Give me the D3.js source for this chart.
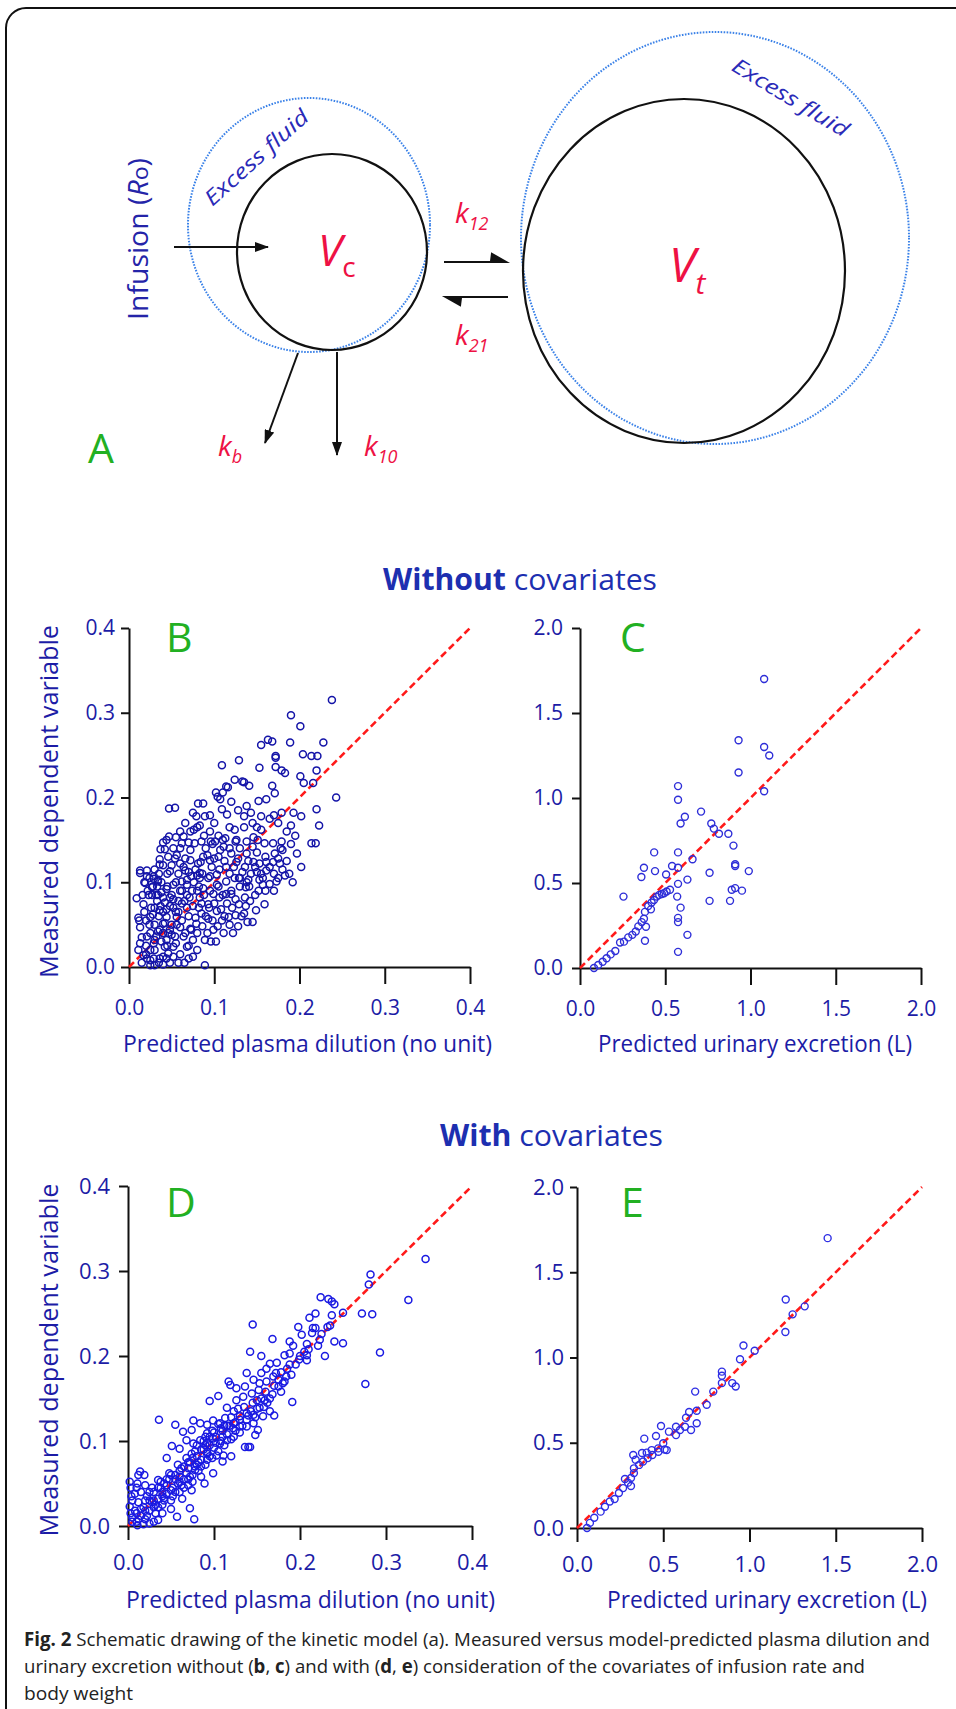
<!DOCTYPE html>
<html>
<head>
<meta charset="utf-8">
<script src="https://cdn.jsdelivr.net/npm/d3@7"></script>
<style>
body { margin: 0; background: #fff; }
text { font-family: "Open Sans", "Noto Sans", sans-serif; }
</style>
</head>
<body>
<svg id="fig" width="956" height="1709"></svg>
<script>
// tick values
const plasmaTicks = [0, 0.1, 0.2, 0.3, 0.4]
const urineTicks = [0, 0.5, 1.0, 1.5, 2.0]

// B: measured vs predicted plasma dilution, no covariates  [predicted, measured]
const plasmaNoCov = [
  [0.238,0.315],[0.19,0.297],[0.201,0.284],[0.163,0.268],[0.168,0.266],[0.155,0.262],[0.189,0.265],[0.228,0.265],
  [0.204,0.251],[0.214,0.249],[0.221,0.249],[0.172,0.249],[0.172,0.247],[0.129,0.244],[0.109,0.238],[0.153,0.235],
  [0.172,0.236],[0.179,0.232],[0.220,0.232],[0.183,0.229],[0.201,0.225],[0.216,0.217],[0.205,0.217],[0.124,0.221],
  [0.133,0.219],[0.135,0.218],[0.141,0.214],[0.114,0.213],[0.116,0.212],[0.102,0.206],[0.110,0.206],[0.104,0.201],
  [0.107,0.198],[0.109,0.186],[0.081,0.193],[0.087,0.193],[0.047,0.187],[0.054,0.188],[0.075,0.182],[0.079,0.178],
  [0.089,0.178],[0.095,0.179],[0.083,0.167],[0.076,0.162],[0.064,0.154],[0.055,0.153],[0.047,0.154],[0.044,0.150],
  [0.040,0.147],[0.042,0.139],[0.037,0.139],[0.036,0.127],[0.036,0.121],[0.013,0.111],[0.021,0.107],[0.029,0.104],
  [0.034,0.103],[0.048,0.113],[0.062,0.146],[0.070,0.147],[0.077,0.146],[0.085,0.148],[0.096,0.148],[0.101,0.148],
  [0.107,0.138],[0.111,0.142],[0.113,0.152],[0.118,0.165],[0.124,0.162],[0.135,0.165],[0.126,0.150],[0.138,0.148],
  [0.146,0.153],[0.151,0.150],[0.155,0.162],[0.159,0.146],[0.169,0.146],[0.179,0.148],[0.171,0.134],[0.180,0.138],
  [0.193,0.182],[0.202,0.178],[0.190,0.167],[0.220,0.186],[0.223,0.167],[0.243,0.200],[0.197,0.134],[0.202,0.118],
  [0.214,0.146],[0.219,0.146],[0.179,0.182],[0.170,0.179],[0.168,0.214],[0.161,0.198],[0.171,0.205],[0.152,0.196],
  [0.143,0.182],[0.138,0.190],[0.150,0.165],[0.138,0.134],[0.146,0.124],[0.153,0.122],[0.161,0.124],[0.169,0.124],
  [0.177,0.122],[0.183,0.108],[0.161,0.114],[0.150,0.112],[0.136,0.118],[0.126,0.124],[0.120,0.134],[0.114,0.118],
  [0.105,0.130],[0.095,0.126],[0.087,0.130],[0.081,0.122],[0.072,0.126],[0.066,0.114],[0.060,0.122],[0.054,0.128],
  [0.068,0.103],[0.083,0.111],[0.093,0.105],[0.103,0.109],[0.130,0.105],[0.140,0.103],[0.157,0.097],[0.173,0.101],
  [0.009,0.081],[0.013,0.114],[0.021,0.114],[0.019,0.099],[0.029,0.107],[0.011,0.058],[0.013,0.047],[0.017,0.074],
  [0.023,0.085],[0.027,0.094],[0.034,0.101],[0.032,0.085],[0.030,0.070],[0.025,0.059],[0.021,0.036],[0.013,0.028],
  [0.011,0.020],[0.017,0.014],[0.025,0.020],[0.029,0.028],[0.032,0.036],[0.036,0.044],[0.040,0.051],[0.042,0.024],
  [0.046,0.016],[0.052,0.012],[0.044,0.010],[0.036,0.010],[0.029,0.010],[0.021,0.010],[0.052,0.024],[0.054,0.036],
  [0.048,0.044],[0.044,0.059],[0.036,0.067],[0.042,0.076],[0.048,0.082],[0.052,0.070],[0.056,0.059],[0.060,0.047],
  [0.064,0.036],[0.068,0.024],[0.075,0.032],[0.073,0.044],[0.079,0.051],[0.085,0.063],[0.089,0.032],[0.089,0.002],
  [0.068,0.070],[0.071,0.082],[0.060,0.090],[0.062,0.101],[0.052,0.097],[0.044,0.092],[0.040,0.082],[0.068,0.097],
  [0.073,0.107],[0.083,0.082],[0.087,0.093],[0.093,0.074],[0.099,0.086],[0.103,0.066],[0.109,0.055],[0.111,0.040],
  [0.099,0.044],[0.093,0.057],[0.103,0.097],[0.114,0.101],[0.120,0.086],[0.121,0.070],[0.117,0.059],[0.125,0.061],
  [0.129,0.074],[0.135,0.063],[0.137,0.072],[0.139,0.053],[0.145,0.053],[0.137,0.094],[0.129,0.105],[0.141,0.095],
  [0.153,0.103],[0.157,0.105],[0.159,0.074],[0.149,0.067],[0.114,0.086],[0.106,0.082],[0.083,0.105],[0.095,0.107],
  [0.124,0.105],[0.015,0.005],[0.020,0.015],[0.025,0.008],[0.030,0.020],[0.035,0.005],[0.038,0.030],[0.040,0.012],
  [0.045,0.025],[0.025,0.040],[0.030,0.050],[0.035,0.060],[0.040,0.065],[0.028,0.062],[0.033,0.078],[0.038,0.088],
  [0.022,0.090],[0.026,0.070],[0.018,0.065],[0.020,0.055],[0.024,0.050],[0.030,0.032],[0.034,0.042],[0.042,0.052],
  [0.046,0.040],[0.050,0.050],[0.055,0.065],[0.058,0.078],[0.050,0.085],[0.045,0.095],[0.055,0.100],[0.062,0.090],
  [0.065,0.078],[0.070,0.060],[0.075,0.072],[0.080,0.090],[0.085,0.075],[0.090,0.060],[0.095,0.090],[0.100,0.075],
  [0.105,0.095],[0.110,0.085],[0.115,0.075],[0.120,0.090],[0.125,0.080],[0.130,0.095],[0.060,0.015],[0.065,0.005],
  [0.070,0.025],[0.080,0.040],[0.048,0.005],[0.055,0.028],[0.033,0.095],[0.027,0.085],[0.037,0.072],[0.030,0.002],
  [0.045,0.110],[0.050,0.120],[0.056,0.132],[0.060,0.140],[0.066,0.128],[0.072,0.138],[0.078,0.115],[0.084,0.124],
  [0.090,0.140],[0.097,0.118],[0.100,0.128],[0.106,0.115],[0.112,0.125],[0.118,0.110],[0.123,0.118],[0.128,0.128],
  [0.133,0.112],[0.138,0.100],[0.143,0.110],[0.148,0.118],[0.155,0.110],[0.160,0.130],[0.165,0.118],[0.170,0.110],
  [0.175,0.128],[0.178,0.140],[0.185,0.125],[0.190,0.145],[0.195,0.155],[0.185,0.160],[0.175,0.170],[0.165,0.175],
  [0.155,0.178],[0.145,0.170],[0.135,0.178],[0.128,0.185],[0.120,0.195],[0.115,0.180],[0.100,0.170],[0.095,0.160],
  [0.088,0.155],[0.080,0.165],[0.072,0.160],[0.066,0.170],[0.060,0.160],[0.052,0.140],[0.046,0.130],[0.040,0.120],
  [0.035,0.110],[0.030,0.115],[0.058,0.110],[0.064,0.118],[0.070,0.112],[0.076,0.100],[0.082,0.095],[0.088,0.085],
  [0.094,0.070],[0.098,0.055],[0.104,0.048],[0.108,0.068],[0.112,0.060],[0.118,0.050],[0.122,0.040],[0.128,0.048],
  [0.132,0.060],[0.136,0.082],[0.142,0.078],[0.148,0.085],[0.152,0.090],[0.160,0.090],[0.165,0.098],[0.170,0.090],
  [0.175,0.105],[0.180,0.115],[0.188,0.110],[0.192,0.100],[0.150,0.135],[0.145,0.142],[0.140,0.125],[0.130,0.140],
  [0.125,0.148],[0.118,0.140],[0.110,0.150],[0.105,0.155],[0.098,0.145],[0.092,0.132],[0.086,0.110],[0.080,0.108],
  [0.074,0.090],[0.068,0.085],[0.062,0.075],[0.058,0.065],[0.052,0.080],[0.048,0.072],[0.044,0.068],[0.040,0.040],
  [0.044,0.032],[0.050,0.038],[0.056,0.050],[0.062,0.055],[0.066,0.040],[0.072,0.045],[0.078,0.058],[0.082,0.070],
  [0.086,0.048],[0.092,0.040],[0.096,0.030],[0.102,0.030],[0.080,0.020],[0.075,0.012],[0.070,0.010],[0.058,0.005],
  [0.040,0.003],[0.025,0.002],[0.020,0.025],[0.015,0.035],[0.012,0.055],[0.016,0.085],[0.018,0.100],[0.024,0.105],
  [0.028,0.095],[0.034,0.085],[0.038,0.100]
]

// C: measured vs predicted urinary excretion (L), no covariates
const urineNoCov = [
  [1.08,1.70],[0.93,1.34],[1.08,1.30],[1.11,1.25],[0.93,1.15],[1.08,1.04],[0.575,1.07],[0.575,0.99],
  [0.615,0.89],[0.59,0.85],[0.71,0.92],[0.77,0.85],[0.785,0.82],[0.815,0.79],[0.87,0.79],[0.90,0.72],
  [0.575,0.68],[0.435,0.68],[0.66,0.64],[0.375,0.59],[0.44,0.57],[0.54,0.60],[0.575,0.59],[0.36,0.535],
  [0.505,0.55],[0.76,0.56],[0.91,0.61],[0.91,0.60],[0.99,0.57],[0.63,0.52],[0.255,0.42],[0.575,0.495],
  [0.57,0.42],[0.59,0.355],[0.575,0.295],[0.575,0.27],[0.63,0.195],[0.575,0.095],[0.76,0.395],[0.88,0.395],
  [0.89,0.46],[0.91,0.47],[0.95,0.455],[0.082,0.0],[0.107,0.018],[0.133,0.037],[0.156,0.057],[0.18,0.08],
  [0.207,0.10],[0.235,0.15],[0.258,0.155],[0.283,0.18],[0.307,0.195],[0.327,0.215],[0.342,0.245],[0.362,0.27],
  [0.375,0.29],[0.381,0.33],[0.40,0.365],[0.42,0.385],[0.434,0.40],[0.45,0.42],[0.465,0.43],[0.48,0.435],
  [0.493,0.44],[0.508,0.45],[0.528,0.46],[0.416,0.345],[0.387,0.243],[0.381,0.16]
]

// D: measured vs predicted plasma dilution, with covariates
const plasmaCov = [
  [0.346,0.314],[0.282,0.296],[0.280,0.284],[0.326,0.266],[0.224,0.269],[0.233,0.267],[0.237,0.264],[0.240,0.261],
  [0.250,0.251],[0.272,0.250],[0.284,0.249],[0.218,0.250],[0.237,0.248],[0.211,0.245],[0.235,0.236],[0.232,0.234],
  [0.215,0.233],[0.218,0.233],[0.198,0.234],[0.214,0.227],[0.202,0.225],[0.225,0.226],[0.223,0.219],[0.240,0.217],
  [0.250,0.215],[0.188,0.217],[0.192,0.212],[0.208,0.214],[0.221,0.212],[0.188,0.203],[0.182,0.201],[0.208,0.201],
  [0.229,0.200],[0.199,0.196],[0.208,0.195],[0.293,0.204],[0.276,0.167],[0.145,0.237],[0.168,0.220],[0.142,0.205],
  [0.155,0.200],[0.138,0.180],[0.155,0.180],[0.165,0.191],[0.173,0.192],[0.161,0.185],[0.178,0.181],[0.184,0.176],
  [0.169,0.176],[0.175,0.164],[0.161,0.170],[0.153,0.168],[0.146,0.172],[0.191,0.146],[0.117,0.170],[0.119,0.166],
  [0.126,0.162],[0.136,0.164],[0.144,0.156],[0.134,0.152],[0.126,0.148],[0.150,0.148],[0.159,0.148],[0.153,0.139],
  [0.165,0.135],[0.170,0.130],[0.157,0.129],[0.146,0.131],[0.138,0.133],[0.130,0.129],[0.123,0.135],[0.115,0.139],
  [0.105,0.153],[0.095,0.147],[0.113,0.127],[0.107,0.121],[0.099,0.124],[0.092,0.119],[0.084,0.121],[0.076,0.124],
  [0.074,0.113],[0.064,0.111],[0.055,0.119],[0.036,0.125],[0.051,0.094],[0.123,0.121],[0.130,0.117],[0.138,0.117],
  [0.146,0.121],[0.151,0.113],[0.148,0.107],[0.136,0.093],[0.142,0.093],[0.123,0.105],[0.115,0.101],[0.107,0.097],
  [0.099,0.103],[0.092,0.109],[0.084,0.101],[0.076,0.097],[0.068,0.101],[0.060,0.091],[0.074,0.085],[0.092,0.087],
  [0.103,0.083],[0.111,0.083],[0.045,0.080],[0.014,0.064],[0.019,0.060],[0.004,0.035],[0.002,0.023],[0.011,0.050],
  [0.035,0.054],[0.042,0.033],[0.063,0.032],[0.074,0.042],[0.077,0.008],[0.072,0.021],[0.057,0.011],[0.035,0.007],
  [0.025,0.003],[0.011,0.001],[0.089,0.050],[0.099,0.062],[0.110,0.076],[0.120,0.082],[0.140,0.093],[0.092,0.078],
  [0.078,0.066],[0.005,0.010],[0.008,0.018],[0.010,0.005],[0.012,0.028],[0.015,0.012],[0.018,0.022],[0.020,0.008],
  [0.022,0.035],[0.025,0.018],[0.028,0.028],[0.030,0.040],[0.032,0.015],[0.035,0.032],[0.038,0.045],[0.040,0.025],
  [0.042,0.050],[0.045,0.038],[0.048,0.055],[0.050,0.030],[0.052,0.045],[0.055,0.060],[0.058,0.050],[0.060,0.040],
  [0.062,0.068],[0.065,0.055],[0.068,0.062],[0.070,0.048],[0.072,0.075],[0.075,0.060],[0.078,0.070],[0.080,0.082],
  [0.082,0.065],[0.085,0.078],[0.088,0.090],[0.090,0.072],[0.092,0.085],[0.095,0.095],[0.098,0.080],[0.100,0.092],
  [0.102,0.105],[0.105,0.088],[0.108,0.100],[0.110,0.112],[0.112,0.095],[0.115,0.108],[0.118,0.118],[0.120,0.102],
  [0.060,0.058],[0.045,0.048],[0.035,0.022],[0.025,0.030],[0.015,0.040],[0.010,0.045],[0.005,0.030],[0.003,0.015],
  [0.070,0.068],[0.085,0.070],[0.095,0.082],[0.130,0.110],[0.125,0.122],[0.108,0.115],[0.098,0.112],[0.088,0.100],
  [0.078,0.088],[0.068,0.080],[0.058,0.072],[0.048,0.062],[0.038,0.052],[0.028,0.045],[0.020,0.048],[0.055,0.040],
  [0.065,0.045],[0.075,0.052],[0.085,0.058],[0.040,0.015],[0.030,0.005],[0.050,0.020],[0.018,0.002],[0.002,0.052],
  [0.105,0.120],[0.110,0.105],[0.115,0.118],[0.120,0.128],[0.125,0.112],[0.130,0.125],[0.135,0.140],[0.140,0.130],
  [0.145,0.145],[0.150,0.138],[0.155,0.150],[0.160,0.158],[0.165,0.150],[0.170,0.165],[0.175,0.172],[0.180,0.168],
  [0.185,0.185],[0.190,0.178],[0.195,0.190],[0.200,0.200],[0.205,0.205],[0.210,0.208],[0.128,0.138],[0.133,0.118],
  [0.138,0.125],[0.143,0.135],[0.148,0.128],[0.152,0.160],[0.158,0.140],[0.162,0.145],[0.168,0.155],[0.172,0.180],
  [0.178,0.158],[0.182,0.170],[0.188,0.190],[0.095,0.105],[0.090,0.095],[0.085,0.090],[0.080,0.095],[0.075,0.080],
  [0.070,0.075],[0.065,0.070],[0.060,0.065],[0.055,0.055],[0.050,0.060],[0.045,0.055],[0.040,0.040],[0.035,0.045],
  [0.030,0.030],[0.025,0.040],[0.020,0.030],[0.015,0.020],[0.010,0.015],[0.005,0.005],[0.008,0.038],[0.012,0.060],
  [0.003,0.045],[0.022,0.012],[0.032,0.025],[0.042,0.030],[0.052,0.035],[0.062,0.048],[0.072,0.058],[0.082,0.075],
  [0.092,0.098],[0.102,0.098],[0.112,0.118],[0.122,0.115],[0.100,0.110],[0.090,0.105],[0.080,0.072],[0.070,0.055],
  [0.060,0.052],[0.050,0.042],[0.040,0.035],[0.030,0.022],[0.020,0.018],[0.012,0.008]
]

// E: measured vs predicted urinary excretion (L), with covariates
const urineCov = [
  [1.453,1.70],[1.21,1.34],[1.32,1.30],[1.25,1.253],[1.208,1.15],[1.03,1.04],[0.965,1.07],[0.945,0.99],
  [0.84,0.917],[0.84,0.893],[0.84,0.85],[0.90,0.85],[0.92,0.83],[0.79,0.80],[0.685,0.80],[0.752,0.723],
  [0.694,0.688],[0.65,0.68],[0.632,0.647],[0.694,0.614],[0.661,0.575],[0.626,0.594],[0.574,0.594],[0.574,0.545],
  [0.597,0.575],[0.487,0.598],[0.533,0.565],[0.458,0.54],[0.39,0.524],[0.52,0.457],[0.50,0.497],[0.471,0.467],
  [0.433,0.457],[0.404,0.442],[0.326,0.428],[0.058,0.0],[0.075,0.03],[0.10,0.06],[0.137,0.096],[0.162,0.125],
  [0.19,0.155],[0.218,0.17],[0.243,0.205],[0.267,0.234],[0.296,0.266],[0.313,0.293],[0.33,0.322],[0.33,0.35],
  [0.36,0.37],[0.383,0.39],[0.41,0.41],[0.437,0.428],[0.472,0.447],[0.508,0.46],[0.313,0.246],[0.34,0.40],
  [0.278,0.287],[0.377,0.44]
]

const blueText = '#1c1ca6'
const redText = '#ee1144'
const green = '#22b022'

const svg = d3.select('#fig')

// frame
svg.append('rect')
    .attr('x', 6).attr('y', 8)
    .attr('width', 1000).attr('height', 1800)
    .attr('rx', 20)
    .attr('fill', 'none')
    .attr('stroke', '#111')
    .attr('stroke-width', 2)

const defs = svg.append('defs')
defs.append('marker')
    .attr('id', 'head')
    .attr('viewBox', '0 0 14 10')
    .attr('refX', 13).attr('refY', 5)
    .attr('markerWidth', 14).attr('markerHeight', 10)
    .attr('markerUnits', 'userSpaceOnUse')
    .attr('orient', 'auto')
    .append('path')
    .attr('d', 'M0,0 L14,5 L0,10 Z')
    .attr('fill', '#111')

// ---------- panel A : the kinetic model ----------
const schema = svg.append('g')

const ellipses = [
    {cx: 309, cy: 225, rx: 121, ry: 127, dotted: true},
    {cx: 332, cy: 252, rx: 95, ry: 98, dotted: false},
    {cx: 715, cy: 238, rx: 194, ry: 206, dotted: true},
    {cx: 684, cy: 271, rx: 161, ry: 172, dotted: false}
]
schema.selectAll('ellipse')
    .data(ellipses)
    .enter()
    .append('ellipse')
    .attr('cx', d => d.cx).attr('cy', d => d.cy)
    .attr('rx', d => d.rx).attr('ry', d => d.ry)
    .attr('fill', 'none')
    .attr('stroke', d => d.dotted ? '#3b82e8' : '#111')
    .attr('stroke-width', d => d.dotted ? 2 : 2.2)
    .attr('stroke-dasharray', d => d.dotted ? '1.6 1.4' : null)

const arrows = [
    [174, 247, 268, 247],
    [298, 353, 265, 443],
    [337, 352, 337, 455]
]
schema.selectAll('line.flow')
    .data(arrows)
    .enter()
    .append('line')
    .attr('class', 'flow')
    .attr('x1', d => d[0]).attr('y1', d => d[1])
    .attr('x2', d => d[2]).attr('y2', d => d[3])
    .attr('stroke', '#111')
    .attr('stroke-width', 2)
    .attr('marker-end', 'url(#head)')

// exchange harpoons
schema.append('path')
    .attr('d', 'M444,262 H505 M506,262 L491,262 L492,254 Z')
    .attr('stroke', '#111').attr('stroke-width', 2.2).attr('fill', '#111')
schema.append('path')
    .attr('d', 'M508,297 H447 M446,297 L461,297 L460,305 Z')
    .attr('stroke', '#111').attr('stroke-width', 2.2).attr('fill', '#111')

// infusion label
const inf = schema.append('text')
    .attr('transform', 'translate(148,239) rotate(-90)')
    .attr('text-anchor', 'middle')
    .attr('font-size', 27)
    .attr('fill', '#2424a8')
    .attr('textLength', 162)
    .attr('lengthAdjust', 'spacingAndGlyphs')
inf.append('tspan').text('Infusion (')
inf.append('tspan').attr('font-style', 'italic').text('R')
inf.append('tspan').attr('font-size', 22).text('o')
inf.append('tspan').text(')')

schema.append('text')
    .attr('transform', 'translate(256,157) rotate(-42)')
    .attr('text-anchor', 'middle')
    .attr('dominant-baseline', 'central')
    .attr('font-size', 21).attr('font-style', 'italic')
    .attr('fill', '#2a2ab8')
    .attr('textLength', 132).attr('lengthAdjust', 'spacingAndGlyphs')
    .text('Excess fluid')
schema.append('text')
    .attr('transform', 'translate(791,97) rotate(31)')
    .attr('text-anchor', 'middle')
    .attr('dominant-baseline', 'central')
    .attr('font-size', 21).attr('font-style', 'italic')
    .attr('fill', '#2a2ab8')
    .attr('textLength', 132).attr('lengthAdjust', 'spacingAndGlyphs')
    .text('Excess fluid')

const subLabel = (x, y, main, sub, size, subSize, subItalic) => {
    const t = schema.append('text')
        .attr('x', x).attr('y', y)
        .attr('fill', redText)
        .attr('font-size', size)
    t.append('tspan').attr('font-style', 'italic').text(main)
    t.append('tspan')
        .attr('font-size', subSize)
        .attr('font-style', subItalic ? 'italic' : 'normal')
        .attr('dy', size * 0.25)
        .text(sub)
}
subLabel(318, 266, 'V', 'c', 44, 28, false)
subLabel(669, 282, 'V', 't', 48, 30, true)
subLabel(455, 223, 'k', '12', 28, 18, true)
subLabel(455, 345, 'k', '21', 28, 18, true)
subLabel(218, 456, 'k', 'b', 28, 18, true)
subLabel(364, 456, 'k', '10', 28, 18, true)

// ---------- titles and panel letters ----------
const title = (x, y, bold, rest, len) => {
    const t = svg.append('text')
        .attr('x', x).attr('y', y)
        .attr('font-size', 30)
        .attr('fill', '#1d2fb0')
        .attr('textLength', len)
        .attr('lengthAdjust', 'spacingAndGlyphs')
    t.append('tspan').attr('font-weight', 'bold').text(bold)
    t.append('tspan').text(rest)
}
title(383, 590, 'Without', ' covariates', 274)
title(440, 1146, 'With', ' covariates', 223)

const letters = [
    {t: 'A', x: 88, y: 463},
    {t: 'B', x: 166, y: 652},
    {t: 'C', x: 620, y: 652},
    {t: 'D', x: 166, y: 1217},
    {t: 'E', x: 621, y: 1217}
]
svg.selectAll('text.letter')
    .data(letters)
    .enter()
    .append('text')
    .attr('class', 'letter')
    .attr('x', d => d.x).attr('y', d => d.y)
    .attr('font-size', 41)
    .attr('fill', green)
    .text(d => d.t)

// ---------- scatter panels ----------
const panels = [
    {data: plasmaNoCov, ticks: plasmaTicks, x0: 129, x1: 470, y0: 967, y1: 628,
     color: '#1414a8', sw: 1.5, xTick: 17, yTick: 8, xPad: 16, yPad: 6, font: 21,
     xLabel: 'Predicted plasma dilution  (no unit)', lx: 123, ly: 1052, lw: 369, yl: true},
    {data: urineNoCov, ticks: urineTicks, x0: 580, x1: 921, y0: 968, y1: 628,
     color: '#2e2ed8', sw: 1.4, xTick: 17, yTick: 8, xPad: 16, yPad: 9, font: 21,
     xLabel: 'Predicted urinary excretion (L)', lx: 598, ly: 1052, lw: 314, yl: false},
    {data: plasmaCov, ticks: plasmaTicks, x0: 128, x1: 472, y0: 1526, y1: 1186,
     color: '#1a1ae2', sw: 1.5, xTick: 14, yTick: 9, xPad: 14, yPad: 9, font: 22,
     xLabel: 'Predicted plasma dilution (no unit)', lx: 126, ly: 1608, lw: 369, yl: true},
    {data: urineCov, ticks: urineTicks, x0: 577, x1: 922, y0: 1528, y1: 1187,
     color: '#2e2ee4', sw: 1.4, xTick: 14, yTick: 7, xPad: 14, yPad: 6, font: 22,
     xLabel: 'Predicted urinary excretion (L)', lx: 607, ly: 1608, lw: 320, yl: false}
]

panels.forEach((p) => {
    const max = p.ticks[p.ticks.length - 1]
    const x = d3.scaleLinear().domain([0, max]).range([p.x0, p.x1])
    const y = d3.scaleLinear().domain([0, max]).range([p.y0, p.y1])
    const g = svg.append('g')

    const xAxis = g.append('g')
        .attr('transform', `translate(0,${p.y0})`)
        .call(d3.axisBottom(x).tickValues(p.ticks).tickFormat(d3.format('.1f'))
            .tickSizeInner(p.xTick).tickSizeOuter(0).tickPadding(p.xPad))
    const yAxis = g.append('g')
        .attr('transform', `translate(${p.x0},0)`)
        .call(d3.axisLeft(y).tickValues(p.ticks).tickFormat(d3.format('.1f'))
            .tickSizeInner(p.yTick).tickSizeOuter(0).tickPadding(p.yPad))

    ;[xAxis, yAxis].forEach((a) => {
        a.select('.domain').attr('stroke', '#111').attr('stroke-width', 2)
        a.selectAll('.tick line').attr('stroke', '#111').attr('stroke-width', 2)
        a.selectAll('.tick text')
            .attr('fill', blueText)
            .attr('font-size', p.font)
            .attr('font-family', '"Open Sans", sans-serif')
    })

    // line of identity
    g.append('line')
        .attr('x1', x(0)).attr('y1', y(0))
        .attr('x2', x(max)).attr('y2', y(max))
        .attr('stroke', '#ff1a1a')
        .attr('stroke-width', 2.6)
        .attr('stroke-dasharray', '7 4')

    g.selectAll('circle')
        .data(p.data)
        .enter()
        .append('circle')
        .attr('cx', d => x(d[0]))
        .attr('cy', d => y(d[1]))
        .attr('r', 3.5)
        .attr('fill', 'none')
        .attr('stroke', p.color)
        .attr('stroke-width', p.sw)

    g.append('text')
        .attr('x', p.lx).attr('y', p.ly)
        .attr('font-size', 23)
        .attr('fill', blueText)
        .attr('textLength', p.lw)
        .attr('lengthAdjust', 'spacingAndGlyphs')
        .text(p.xLabel)

    if (p.yl) {
        g.append('text')
            .attr('transform', `translate(58,${(p.y0 + p.y1) / 2 + 4}) rotate(-90)`)
            .attr('text-anchor', 'middle')
            .attr('font-size', 25)
            .attr('fill', blueText)
            .attr('textLength', 353)
            .attr('lengthAdjust', 'spacingAndGlyphs')
            .text('Measured dependent variable')
    }
})

// ---------- caption ----------
const caption = [
    {y: 1646, len: 906, parts: [['Fig. 2', true], [' Schematic drawing of the kinetic model (a). Measured versus model-predicted plasma dilution and', false]]},
    {y: 1673, len: 841, parts: [['urinary excretion without (', false], ['b', true], [', ', false], ['c', true], [') and with (', false], ['d', true], [', ', false], ['e', true], [') consideration of the covariates of infusion rate and', false]]},
    {y: 1700, len: 109, parts: [['body weight', false]]}
]
caption.forEach((line) => {
    const t = svg.append('text')
        .attr('x', 24).attr('y', line.y)
        .attr('font-size', 19)
        .attr('fill', '#222')
        .attr('textLength', line.len)
        .attr('lengthAdjust', 'spacingAndGlyphs')
    line.parts.forEach((part) => {
        t.append('tspan')
            .attr('font-weight', part[1] ? 'bold' : 'normal')
            .text(part[0])
    })
})
</script>
</body>
</html>
